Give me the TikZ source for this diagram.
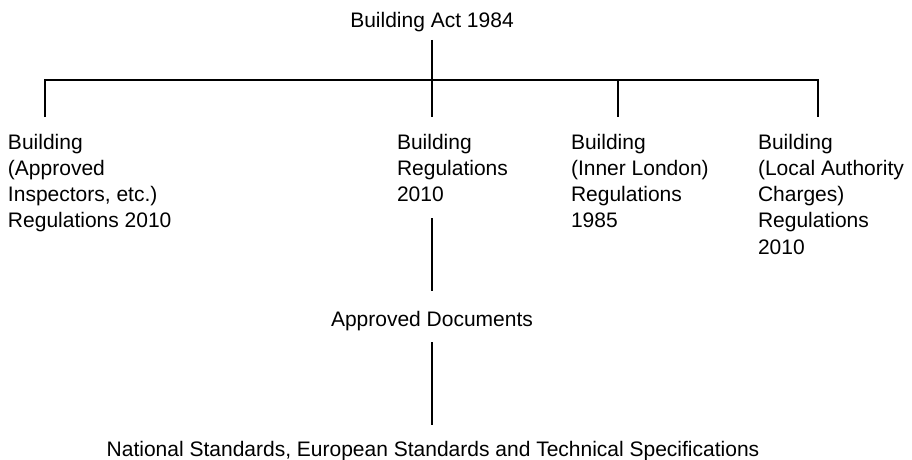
\documentclass[tikz,border=0pt]{standalone}
\usepackage{fontspec}
\setmainfont{Liberation Sans}
\tikzset{
  lbl/.style={inner sep=0pt, outer sep=0pt, align=left, font=\fontsize{21}{26.25}\selectfont},
  conn/.style={draw=black, line width=1.2pt}
}
\begin{document}
\begin{tikzpicture}[x=1pt, y=-1pt]
\useasboundingbox (0,0) rectangle (912,460);
% texts (base anchor = baseline of the last line)
\node[lbl, anchor=base] (act) at (432,27.5) {Building Act 1984};
\node[lbl, anchor=base west] (ai) at (8,227.75) {Building\\(Approved\\Inspectors, etc.)\\Regulations 2010};
\node[lbl, anchor=base west] (br) at (397,201.5) {Building\\Regulations\\2010};
\node[lbl, anchor=base west] (il) at (571,227.75) {Building\\(Inner London)\\Regulations\\1985};
\node[lbl, anchor=base west] (la) at (758,254) {Building\\(Local Authority\\Charges)\\Regulations\\2010};
\node[lbl, anchor=base] (ad) at (432,326) {Approved Documents};
\node[lbl, anchor=base] (ns) at (433,456.5) {National Standards, European Standards and Technical Specifications};
% junction points
\coordinate (actb) at (432,40);
\coordinate (bar) at (432,80);
\coordinate (barl) at (45,80);
\coordinate (barr) at (818,80);
\coordinate (ait) at (45,117);
\coordinate (brt) at (432,117);
\coordinate (ilt) at (618,80);
\coordinate (ilb) at (618,117);
\coordinate (lab) at (818,117);
\coordinate (brb) at (432,218);
\coordinate (adt) at (432,291);
\coordinate (adb) at (432,342);
\coordinate (nst) at (432,425);
% connectors
\draw[conn] (actb) -- (bar);
\draw[conn] (ait) -- (barl) -- (barr) -- (lab);
\draw[conn] (bar) -- (brt);
\draw[conn] (ilt) -- (ilb);
\draw[conn] (brb) -- (adt);
\draw[conn] (adb) -- (nst);
\end{tikzpicture}
\end{document}
